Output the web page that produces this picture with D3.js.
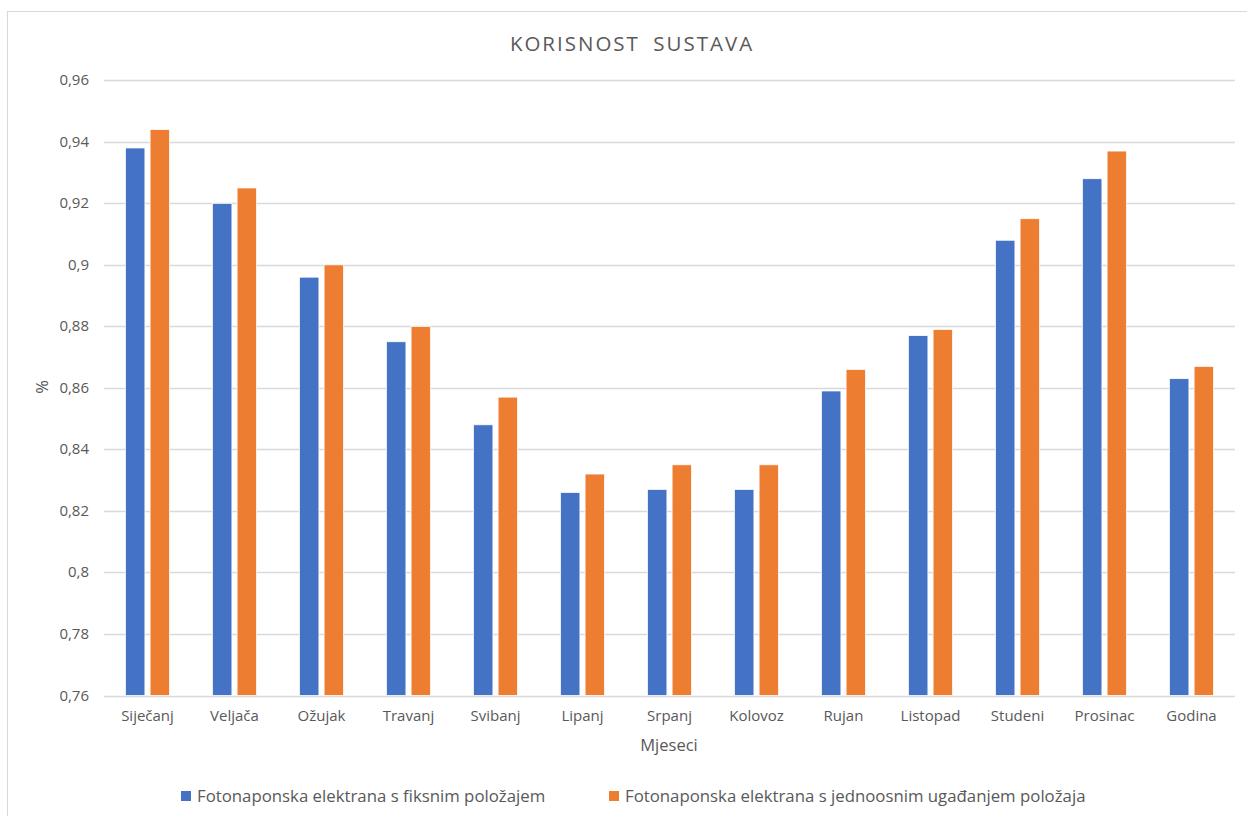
<!DOCTYPE html>
<html>
<head>
<meta charset="utf-8">
<script src="https://cdn.jsdelivr.net/npm/d3@7"></script>
<style>
  body { margin: 0; background: #fff; }
  text { font-family: "Open Sans", Lato, sans-serif; fill: #595959; }
</style>
</head>
<body>
<div id="chart"></div>
<script>
var WIDTH = 1247;
var HEIGHT = 816;

// data
var months = ["Siječanj", "Veljača", "Ožujak", "Travanj", "Svibanj", "Lipanj", "Srpanj",
    "Kolovoz", "Rujan", "Listopad", "Studeni", "Prosinac", "Godina"];
var seriesNames = ["Fotonaponska elektrana s fiksnim položajem",
    "Fotonaponska elektrana s jednoosnim ugađanjem položaja"];
var fixedValues = [0.938, 0.920, 0.896, 0.875, 0.848, 0.826, 0.827, 0.827, 0.859, 0.877, 0.908, 0.928, 0.863];
var trackingValues = [0.944, 0.925, 0.900, 0.880, 0.857, 0.832, 0.835, 0.835, 0.866, 0.879, 0.915, 0.937, 0.867];
var yTicks = [0.76, 0.78, 0.80, 0.82, 0.84, 0.86, 0.88, 0.90, 0.92, 0.94, 0.96];
var colors = ["#4472c4", "#ed7d31"];

var margin = { left: 104, right: 1235, top: 80.3, bottom: 695.5 };

var svg = d3.select("#chart").append("svg")
    .attr("width", WIDTH)
    .attr("height", HEIGHT);

// chart frame (right and bottom edges fall outside the picture)
svg.append("rect")
    .attr("x", 7.5).attr("y", 11.5)
    .attr("width", 1270).attr("height", 830)
    .attr("fill", "#fff")
    .attr("stroke", "#d9d9d9");

var x0 = d3.scaleBand()
    .domain(months)
    .range([margin.left, margin.right])
    .paddingInner(0.494)
    .paddingOuter(0.247);

var x1 = d3.scaleBand()
    .domain([0, 1])
    .range([0, x0.bandwidth()])
    .paddingInner(0.21);

var y = d3.scaleLinear()
    .domain([0.76, 0.96])
    .range([margin.bottom, margin.top]);

function fmt(v) {
    return d3.format("~g")(+v.toFixed(2)).replace(".", ",");
}

// gridlines
svg.append("g")
    .selectAll("line")
    .data(yTicks)
    .enter().append("line")
    .attr("x1", margin.left)
    .attr("x2", margin.right)
    .attr("y1", function(d) { return Math.round(y(d)) + 0.5; })
    .attr("y2", function(d) { return Math.round(y(d)) + 0.5; })
    .attr("stroke", "#d9d9d9")
    .attr("stroke-width", 1.5);

// y tick labels
svg.append("g")
    .selectAll("text")
    .data(yTicks)
    .enter().append("text")
    .attr("x", 89)
    .attr("y", function(d) { return y(d) + 5; })
    .attr("text-anchor", "end")
    .attr("font-size", 15)
    .text(fmt);

// bars
var rows = months.map(function(m, i) {
    return { month: m, values: [fixedValues[i], trackingValues[i]] };
});

var groups = svg.append("g")
    .selectAll("g")
    .data(rows)
    .enter().append("g")
    .attr("transform", function(d) { return "translate(" + x0(d.month) + ",0)"; });

groups.selectAll("rect")
    .data(function(d) { return d.values.map(function(v, k) { return { k: k, v: v }; }); })
    .enter().append("rect")
    .attr("x", function(d) { return x1(d.k); })
    .attr("width", x1.bandwidth())
    .attr("y", function(d) { return y(d.v); })
    .attr("height", function(d) { return y(0.76) - y(d.v); })
    .attr("fill", function(d) { return colors[d.k]; })
    .attr("stroke", "#fff")
    .attr("stroke-width", 0.75);

// x labels
svg.append("g")
    .selectAll("text")
    .data(months)
    .enter().append("text")
    .attr("x", function(d) { return x0(d) + x0.bandwidth() / 2; })
    .attr("y", 721)
    .attr("text-anchor", "middle")
    .attr("font-size", 15)
    .text(function(d) { return d; });

// axis titles
svg.append("text")
    .attr("x", 669)
    .attr("y", 751)
    .attr("text-anchor", "middle")
    .attr("font-size", 16.5)
    .text("Mjeseci");

svg.append("text")
    .attr("transform", "translate(48,387) rotate(-90)")
    .attr("text-anchor", "middle")
    .attr("font-size", 16.5)
    .text("%");

// title
svg.append("text")
    .attr("x", 632)
    .attr("y", 51)
    .attr("text-anchor", "middle")
    .attr("font-size", 20.5)
    .attr("letter-spacing", 2)
    .attr("word-spacing", 6)
    .text("KORISNOST SUSTAVA");

// legend
var legendX = [181, 609];
var legend = svg.append("g")
    .selectAll("g")
    .data(seriesNames)
    .enter().append("g")
    .attr("transform", function(d, i) { return "translate(" + legendX[i] + ",791)"; });

legend.append("rect")
    .attr("width", 10).attr("height", 10)
    .attr("fill", function(d, i) { return colors[i]; });

legend.append("text")
    .attr("x", 16)
    .attr("y", 11)
    .attr("font-size", 16.8)
    .text(function(d) { return d; });
</script>
</body>
</html>
